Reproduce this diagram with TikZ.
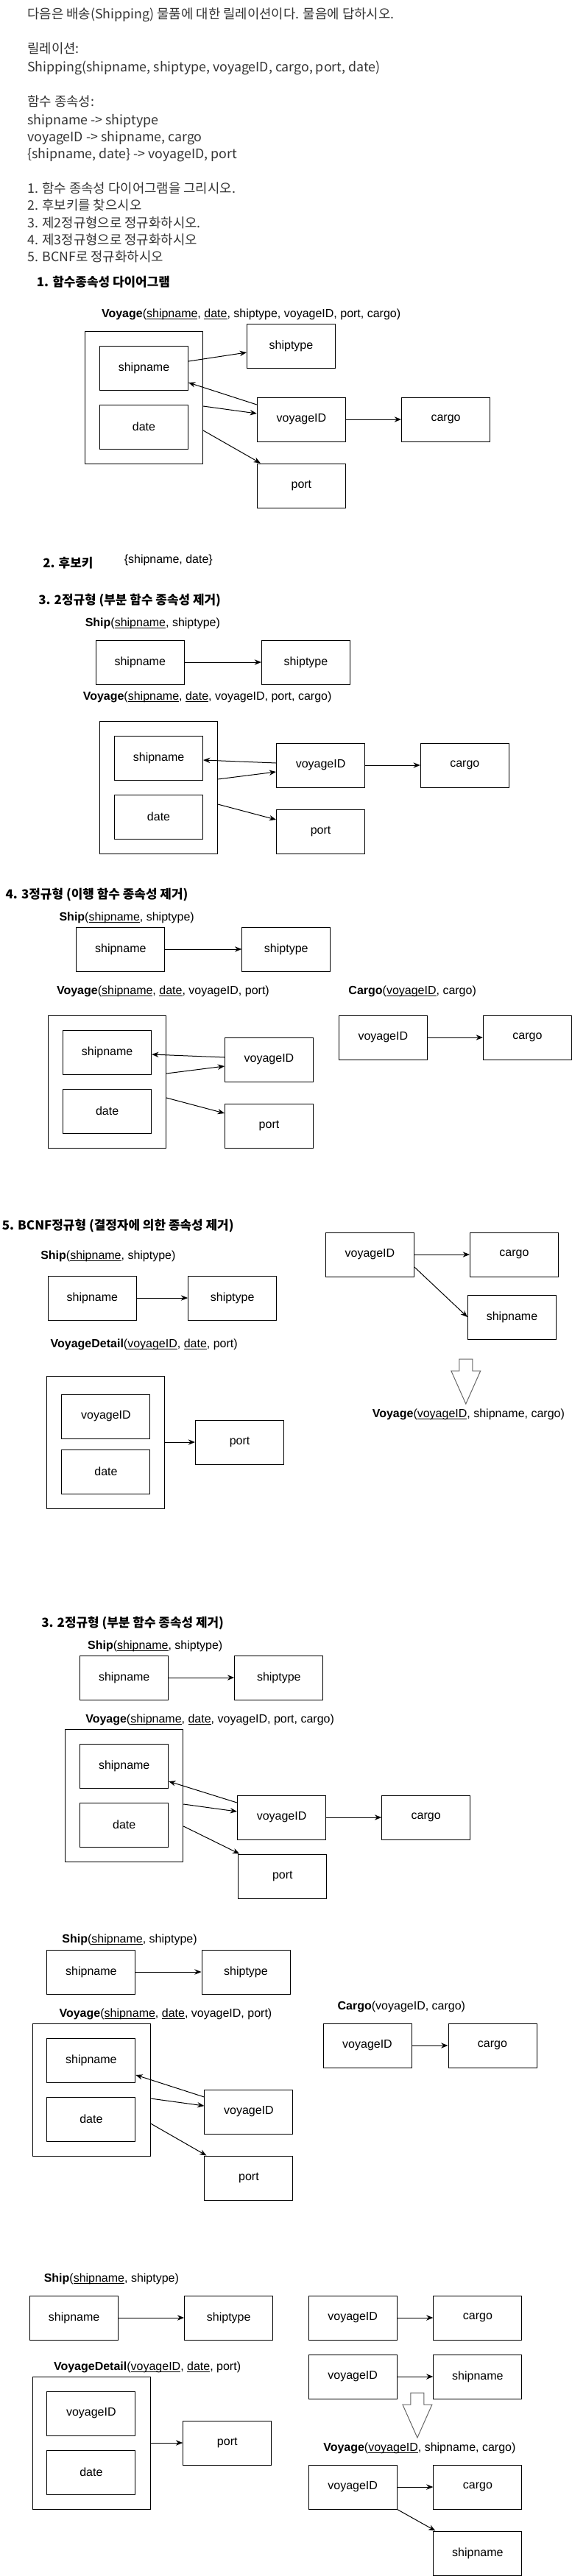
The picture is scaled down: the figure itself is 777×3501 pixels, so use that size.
\documentclass[tikz,border=0pt]{standalone}
\usepackage{fontspec}
\setmainfont{Liberation Sans}
\newfontfamily\kr{Noto Sans CJK KR}
\usetikzlibrary{arrows.meta,calc}
\newcommand{\pk}[1]{\underline{\smash{#1}}}
\begin{document}
\begin{tikzpicture}[x=0.75pt,y=-0.75pt,
  attr/.style={draw,line width=0.75pt,minimum width=90pt,minimum height=45pt,inner sep=0pt,font=\fontsize{12}{14}\selectfont},
  grp/.style={draw,line width=0.75pt,minimum width=120pt,minimum height=135pt,inner sep=0pt},
  fd/.style={-{Stealth[length=7pt,width=5.5pt]},line width=0.75pt},
  rel/.style={anchor=base west,inner sep=0pt,font=\fontsize{12}{14}\selectfont},
  sec/.style={anchor=base west,inner sep=0pt,font=\kr\bfseries\fontsize{12.7}{15}\selectfont},
  txt/.style={anchor=base west,inner sep=0pt,text=black!80,font=\kr\fontsize{13.35}{16}\selectfont},
  hollow/.style={draw=black!60,line width=0.75pt}]
  \useasboundingbox (0,0) rectangle (777,3501);

  \node[txt] (i1) at (37,25) {다음은 배송(Shipping) 물품에 대한 릴레이션이다. 물음에 답하시오.};
  \node[txt] (i2) at (37,72) {릴레이션:};
  \node[txt] (i3) at (37,97) {Shipping(shipname, shiptype, voyageID, cargo, port, date)};
  \node[txt] (i4) at (37,144) {함수 종속성:};
  \node[txt] (i5) at (37,169) {shipname -> shiptype};
  \node[txt] (i6) at (37,192) {voyageID -> shipname, cargo};
  \node[txt] (i7) at (37,215) {\{shipname, date\} -> voyageID, port};
  \node[txt] (i8) at (37,262) {1. 함수 종속성 다이어그램을 그리시오.};
  \node[txt] (i9) at (37,285) {2. 후보키를 찾으시오};
  \node[txt] (i10) at (37,309) {3. 제2정규형으로 정규화하시오.};
  \node[txt] (i11) at (37,332) {4. 제3정규형으로 정규화하시오};
  \node[txt] (i12) at (37,355) {5. BCNF로 정규화하시오};

  \node[sec] (s1) at (49.6,389) {1. 함수종속성 다이어그램};
  \node[rel] (t1) at (137.8,431.5) {\textbf{Voyage}(\pk{shipname}, \pk{date}, shiptype, voyageID, port, cargo)};
  \node[grp] (o1) at (195.5,540) {};
  \node[attr] (sn1) at (195.5,500) {shipname};
  \node[attr] (dt1) at (195.5,580) {date};
  \node[attr] (st1) at (395.5,470) {shiptype};
  \node[attr] (v1) at (409.4,570) {voyageID};
  \node[attr] (c1) at (605.6,570) {cargo};
  \node[attr] (p1) at (409.4,660) {port};
  \draw[fd] ($(sn1.east)+(0,-9)$) -- ($(st1.west)+(0,9)$);
  \draw[fd] ($(v1.west)+(0,-20)$) -- ($(sn1.east)+(0,20)$);
  \draw[fd] ($(o1.east)+(0,12)$) -- ($(v1.west)+(0,-8)$);
  \draw[fd] (v1) -- (c1);
  \draw[fd] ($(o1.east)+(0,45)$) -- ($(p1.north west)+(5,0)$);

  \node[sec] (s2) at (58,771) {2. 후보키};
  \node[rel] (ck) at (168.5,765.5) {\{shipname, date\}};

  \node[sec] (s3) at (52,821) {3. 2정규형 (부분 함수 종속성 제거)};
  \node[rel] (t2) at (115.5,851.5) {\textbf{Ship}(\pk{shipname}, shiptype)};
  \node[attr] (sn2) at (190.25,900) {shipname};
  \node[attr] (st2) at (415.5,900) {shiptype};
  \draw[fd] (sn2) -- (st2);
  \node[rel] (t3) at (112.5,951.5) {\textbf{Voyage}(\pk{shipname}, \pk{date}, voyageID, port, cargo)};
  \node[grp] (o2) at (215.3,1070) {};
  \node[attr] (sn2i) at (215.55,1030) {shipname};
  \node[attr] (dt2) at (215.55,1110) {date};
  \node[attr] (v2) at (435.55,1040) {voyageID};
  \node[attr] (c2) at (631.35,1040) {cargo};
  \node[attr] (p2) at (435.55,1130) {port};
  \draw[fd] ($(v2.west)+(0,-3)$) -- ($(sn2i.east)+(0,3)$);
  \draw[fd] ($(o2.east)+(0,-11)$) -- ($(v2.west)+(0,9)$);
  \draw[fd] (v2) -- (c2);
  \draw[fd] ($(o2.east)+(0,23)$) -- ($(p2.west)+(0,-16)$);

  \node[sec] (s4) at (7.4,1221) {4. 3정규형 (이행 함수 종속성 제거)};
  \node[rel] (t4) at (80.3,1251.5) {\textbf{Ship}(\pk{shipname}, shiptype)};
  \node[attr] (sn3) at (163.8,1290) {shipname};
  \node[attr] (st3) at (388.75,1290) {shiptype};
  \draw[fd] (sn3) -- (st3);
  \node[rel] (t5) at (76.8,1351.5) {\textbf{Voyage}(\pk{shipname}, \pk{date}, voyageID, port)};
  \node[rel] (t6) at (473.2,1351.5) {\textbf{Cargo}(\pk{voyageID}, cargo)};
  \node[grp] (o3) at (145.45,1470) {};
  \node[attr] (sn3i) at (145.65,1430) {shipname};
  \node[attr] (dt3) at (145.65,1510) {date};
  \node[attr] (v3) at (365.5,1440) {voyageID};
  \node[attr] (p3) at (365.5,1530) {port};
  \node[attr] (cv3) at (520.35,1410) {voyageID};
  \node[attr] (cc3) at (716.5,1410) {cargo};
  \draw[fd] ($(v3.west)+(0,-3)$) -- ($(sn3i.east)+(0,3)$);
  \draw[fd] ($(o3.east)+(0,-11)$) -- ($(v3.west)+(0,9)$);
  \draw[fd] ($(o3.east)+(0,22)$) -- ($(p3.west)+(0,-17)$);
  \draw[fd] (cv3) -- (cc3);

  \node[sec] (s5) at (2.5,1671) {5. BCNF정규형 (결정자에 의한 종속성 제거)};
  \node[rel] (t7) at (55,1711.5) {\textbf{Ship}(\pk{shipname}, shiptype)};
  \node[attr] (sn4) at (125.35,1764) {shipname};
  \node[attr] (st4) at (315.65,1764) {shiptype};
  \draw[fd] (sn4) -- (st4);
  \node[rel] (t8) at (68.4,1831.5) {\textbf{VoyageDetail}(\pk{voyageID}, \pk{date}, port)};
  \node[grp] (o4) at (143.95,1960) {};
  \node[attr] (vi4) at (143.95,1925) {voyageID};
  \node[attr] (dt4) at (143.95,2000) {date};
  \node[attr] (p4) at (325.55,1960) {port};
  \draw[fd] (o4) -- (p4);
  \node[attr] (rv4) at (502.45,1705) {voyageID};
  \node[attr] (rc4) at (698.5,1705) {cargo};
  \node[attr] (rs4) at (695.5,1790) {shipname};
  \draw[fd] (rv4) -- (rc4);
  \draw[fd] ($(rv4.east)+(0,17)$) -- (rs4.west);
  \coordinate (dn4) at (632.8,1847);
  \draw[hollow] (dn4) ++(-9,0) -- ++(18,0) -- ++(0,16) -- ++(11,0) -- ++(-20,45) -- ++(-20,-45) -- ++(11,0) -- cycle;
  \node[rel] (t9) at (505.5,1926.5) {\textbf{Voyage}(\pk{voyageID}, shipname, cargo)};

  \node[sec] (s6) at (56,2211) {3. 2정규형 (부분 함수 종속성 제거)};
  \node[rel] (t10) at (118.9,2241.5) {\textbf{Ship}(\pk{shipname}, shiptype)};
  \node[attr] (sn5) at (168.7,2280) {shipname};
  \node[attr] (st5) at (378.8,2280) {shiptype};
  \draw[fd] (sn5) -- (st5);
  \node[rel] (t11) at (116,2341.5) {\textbf{Voyage}(\pk{shipname}, \pk{date}, voyageID, port, cargo)};
  \node[grp] (o5) at (168.75,2440) {};
  \node[attr] (sn5i) at (168.7,2400) {shipname};
  \node[attr] (dt5) at (168.7,2480) {date};
  \node[attr] (v5) at (382.55,2470) {voyageID};
  \node[attr] (c5) at (578.75,2470) {cargo};
  \node[attr] (p5) at (383.8,2550) {port};
  \draw[fd] ($(v5.west)+(0,-20)$) -- ($(sn5i.east)+(0,21)$);
  \draw[fd] ($(o5.east)+(0,12)$) -- ($(v5.west)+(0,-8)$);
  \draw[fd] (v5) -- (c5);
  \draw[fd] ($(o5.east)+(0,42)$) -- ($(p5.north west)+(2,0)$);

  \node[rel] (t12) at (84.2,2640.5) {\textbf{Ship}(\pk{shipname}, shiptype)};
  \node[attr] (sn6) at (123.85,2680) {shipname};
  \node[attr] (st6) at (334,2680) {shiptype};
  \draw[fd] (sn6) -- (st6);
  \node[rel] (t13) at (80.3,2741.5) {\textbf{Voyage}(\pk{shipname}, \pk{date}, voyageID, port)};
  \node[rel] (t14) at (458.4,2731.5) {\textbf{Cargo}(voyageID, cargo)};
  \node[grp] (o6) at (124.15,2840) {};
  \node[attr] (sn6i) at (123.85,2800) {shipname};
  \node[attr] (dt6) at (123.85,2880) {date};
  \node[attr] (v6) at (337.95,2870) {voyageID};
  \node[attr] (p6) at (337.95,2960) {port};
  \node[attr] (cv6) at (499,2780) {voyageID};
  \node[attr] (cc6) at (669,2780) {cargo};
  \draw[fd] ($(v6.west)+(0,-20)$) -- ($(sn6i.east)+(0,20)$);
  \draw[fd] ($(o6.east)+(0,12)$) -- ($(v6.west)+(0,-8)$);
  \draw[fd] ($(o6.east)+(0,46)$) -- ($(p6.north west)+(3,0)$);
  \draw[fd] (cv6) -- (cc6);

  \node[rel] (t15) at (59.5,3101.5) {\textbf{Ship}(\pk{shipname}, shiptype)};
  \node[attr] (sn7) at (100.6,3150) {shipname};
  \node[attr] (st7) at (310.7,3150) {shiptype};
  \draw[fd] (sn7) -- (st7);
  \node[rel] (t16) at (72.8,3221.5) {\textbf{VoyageDetail}(\pk{voyageID}, \pk{date}, port)};
  \node[grp] (o7) at (124.15,3320) {};
  \node[attr] (vi7) at (123.85,3280) {voyageID};
  \node[attr] (dt7) at (123.85,3360) {date};
  \node[attr] (p7) at (308.75,3320) {port};
  \draw[fd] (o7) -- (p7);
  \node[attr] (rv7a) at (479.2,3150) {voyageID};
  \node[attr] (rc7a) at (648.9,3150) {cargo};
  \node[attr] (rv7b) at (479.2,3230) {voyageID};
  \node[attr] (rs7b) at (648.9,3230) {shipname};
  \draw[fd] (rv7a) -- (rc7a);
  \draw[fd] (rv7b) -- (rs7b);
  \coordinate (dn7) at (566.9,3252);
  \draw[hollow] (dn7) ++(-9,0) -- ++(18,0) -- ++(0,16) -- ++(11,0) -- ++(-20,45) -- ++(-20,-45) -- ++(11,0) -- cycle;
  \node[rel] (t17) at (439,3331.5) {\textbf{Voyage}(\pk{voyageID}, shipname, cargo)};
  \node[attr] (rv7c) at (479.2,3380) {voyageID};
  \node[attr] (rc7c) at (648.9,3380) {cargo};
  \node[attr] (rs7c) at (648.9,3470) {shipname};
  \draw[fd] (rv7c) -- (rc7c);
  \draw[fd] (rv7c.south east) -- ($(rs7c.north west)+(3,0)$);
\end{tikzpicture}
\end{document}
